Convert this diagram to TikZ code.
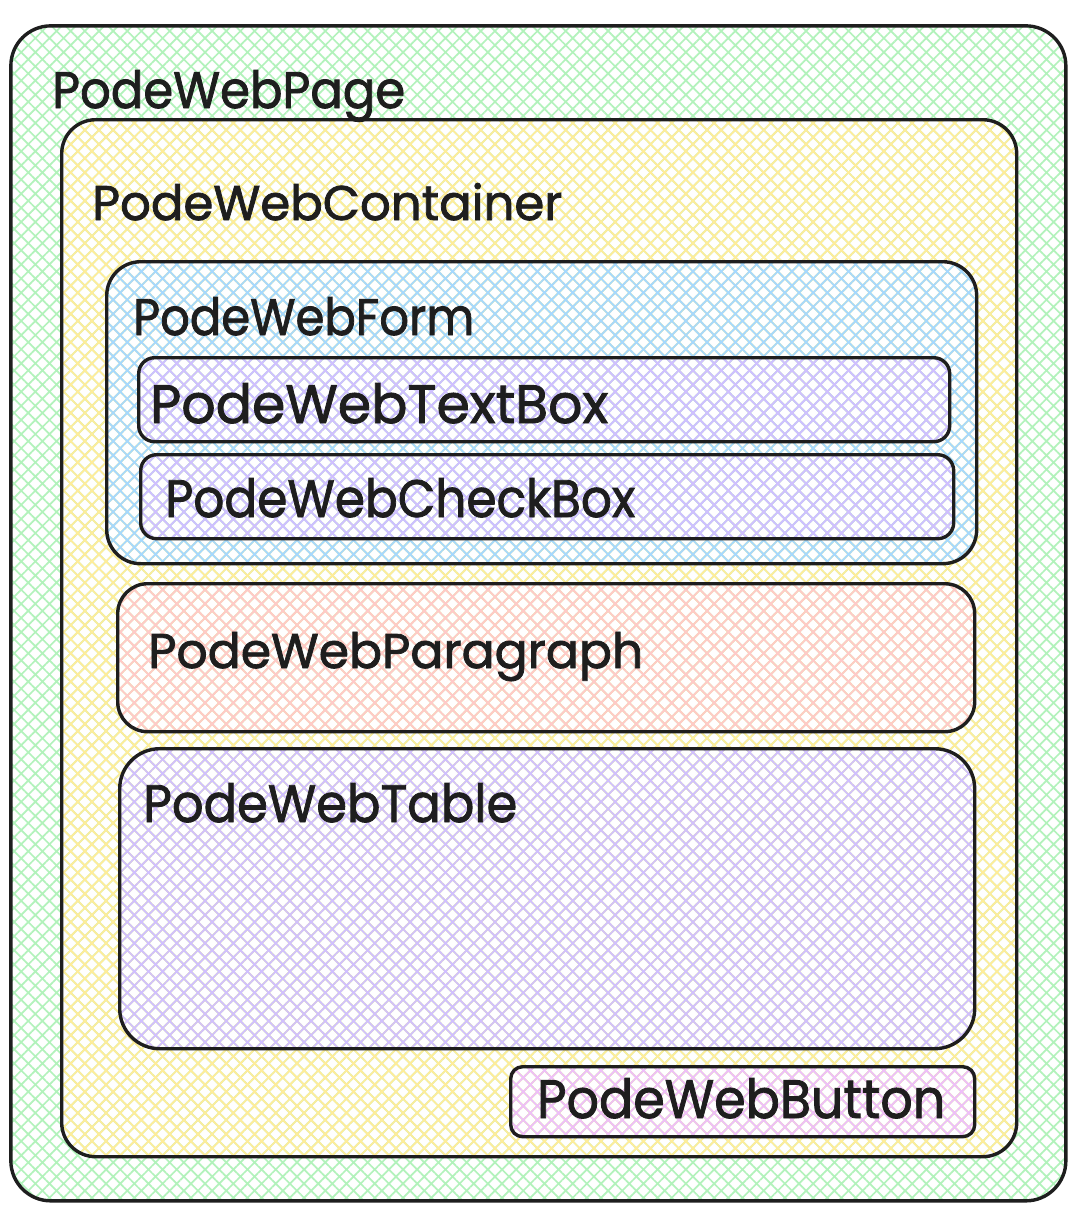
\documentclass[tikz,border=0pt]{standalone}
\usepackage{fontspec}
\setmainfont{Poppins}[FakeBold=1.6]
\usetikzlibrary{patterns.meta}
\definecolor{ink}{HTML}{1E1E1E}
\definecolor{cgreen}{HTML}{B2F2BB}
\definecolor{cyellow}{HTML}{FFEC99}
\definecolor{cblue}{HTML}{A5D8FF}
\definecolor{cviolet}{HTML}{D0BFFF}
\definecolor{cred}{HTML}{FFC9C9}
\definecolor{cpink}{HTML}{EEBEFA}
\newcommand\fitlbl[3]{\resizebox{#1pt}{#2pt}{#3}}
\tikzset{
  box/.style={draw=ink, line width=3.4pt, anchor=north west, inner sep=0pt,
    pattern={Hatch[angle=45,distance=10pt,line width=1.7pt]}},
  lbl/.style={anchor=base west, inner sep=0pt, text=ink},
}
\begin{document}
\begin{tikzpicture}[x=1pt,y=-1pt]
\fill[white] (0,0) rectangle (1076,1219);
\useasboundingbox (0,0) rectangle (1076,1219);
% boxes
\node[box, pattern color=cgreen, rounded corners=40pt, minimum width=1055pt, minimum height=1175pt] (page) at (10,25) {};
\node[box, pattern color=cyellow, rounded corners=34pt, minimum width=955pt, minimum height=1037pt] (container) at (60,118) {};
\node[box, pattern color=cblue, rounded corners=34pt, minimum width=870pt, minimum height=302pt] (form) at (105,260) {};
\node[box, pattern color=cviolet, rounded corners=16pt, minimum width=811pt, minimum height=84pt] (textbox) at (137,356) {};
\node[box, pattern color=cviolet, rounded corners=16pt, minimum width=813pt, minimum height=84pt] (checkbox) at (139,453) {};
\node[box, pattern color=cred, rounded corners=30pt, minimum width=857pt, minimum height=148pt] (paragraph) at (116,582) {};
\node[box, pattern color=cviolet, rounded corners=40pt, minimum width=855pt, minimum height=300pt] (table) at (118,747) {};
\node[box, pattern color=cpink, rounded corners=12pt, minimum width=464pt, minimum height=70pt] (button) at (509,1065) {};
% labels
\node[lbl] (pageL) at (52,108) {\fitlbl{353}{38}{PodeWebPage}};
\node[lbl] (containerL) at (92,220) {\fitlbl{470}{37}{PodeWebContainer}};
\node[lbl] (formL) at (133,335) {\fitlbl{341}{38}{PodeWebForm}};
\node[lbl] (textboxL) at (150,423) {\fitlbl{458}{40}{PodeWebTextBox}};
\node[lbl] (checkboxL) at (165,517) {\fitlbl{470}{39}{PodeWebCheckBox}};
\node[lbl] (paragraphL) at (148,668) {\fitlbl{495}{36}{PodeWebParagraph}};
\node[lbl] (tableL) at (143,822) {\fitlbl{374}{39}{PodeWebTable}};
\node[lbl] (buttonL) at (537,1118) {\fitlbl{408}{40}{PodeWebButton}};
\end{tikzpicture}
\end{document}
